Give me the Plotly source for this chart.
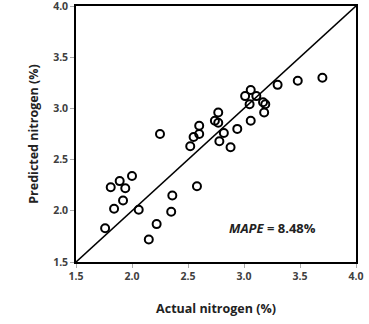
import plotly.graph_objects as go

actual = [1.76, 1.81, 1.89, 1.94, 1.92, 1.84, 2.00, 2.06, 2.25, 2.15, 2.22, 2.35, 2.36, 2.58,
          2.52, 2.55, 2.60, 2.60, 2.78, 2.82, 2.74, 2.77, 2.77, 2.88, 2.94, 3.06, 3.01, 3.06,
          3.11, 3.05, 3.17, 3.19, 3.18, 3.30, 3.48, 3.70]
predicted = [1.83, 2.23, 2.29, 2.22, 2.10, 2.02, 2.34, 2.01, 2.75, 1.72, 1.87, 1.99, 2.15, 2.24,
             2.63, 2.72, 2.75, 2.83, 2.68, 2.76, 2.88, 2.86, 2.96, 2.62, 2.80, 2.88, 3.12, 3.18,
             3.12, 3.04, 3.06, 3.04, 2.96, 3.23, 3.27, 3.30]
line_x = [1.5, 4.0]
line_y = [1.5, 4.0]
tick_vals = [1.5, 2.0, 2.5, 3.0, 3.5, 4.0]
tick_text = ["<b>1.5</b>", "<b>2.0</b>", "<b>2.5</b>", "<b>3.0</b>", "<b>3.5</b>", "<b>4.0</b>"]

font = "'Open Sans', Lato, sans-serif"

fig = go.Figure()
fig.add_trace(go.Scatter(x=line_x, y=line_y, mode="lines",
                         line=dict(color="black", width=1.6), showlegend=False, hoverinfo="skip"))
fig.add_trace(go.Scatter(x=actual, y=predicted, mode="markers",
                         marker=dict(symbol="circle-open", size=8, color="black",
                                     line=dict(width=2, color="black")),
                         showlegend=False))

axis_common = dict(range=[1.5, 4.0], tickvals=tick_vals, ticktext=tick_text,
                   showgrid=False, zeroline=False, showline=True, linecolor="black",
                   linewidth=1.5, mirror=True, ticks="outside", ticklen=4, tickwidth=1,
                   tickcolor="#aaaaaa", ticklabeloverflow="allow", automargin=False,
                   tickfont=dict(family=font, size=10.5, color="#404040"))

fig.update_layout(
    width=369, height=324,
    margin=dict(l=76, r=13, t=6, b=62),
    paper_bgcolor="white", plot_bgcolor="white",
    xaxis=dict(**axis_common,
               title=dict(text="<b>Actual nitrogen (%)</b>", standoff=22,
                          font=dict(family=font, size=12.5, color="#222222"))),
    yaxis=dict(**axis_common,
               title=dict(text="<b>Predicted nitrogen (%)</b>", standoff=12,
                          font=dict(family=font, size=12.5, color="#222222"))),
    annotations=[dict(x=3.25, y=1.83, xref="x", yref="y", showarrow=False,
                      text="<b><i>MAPE</i> = 8.48%</b>",
                      font=dict(family=font, size=13, color="#222222"))],
)

fig.write_html("out.html", config={"displayModeBar": False},
               post_script="document.body.style.margin='0';document.body.style.overflow='hidden';")
